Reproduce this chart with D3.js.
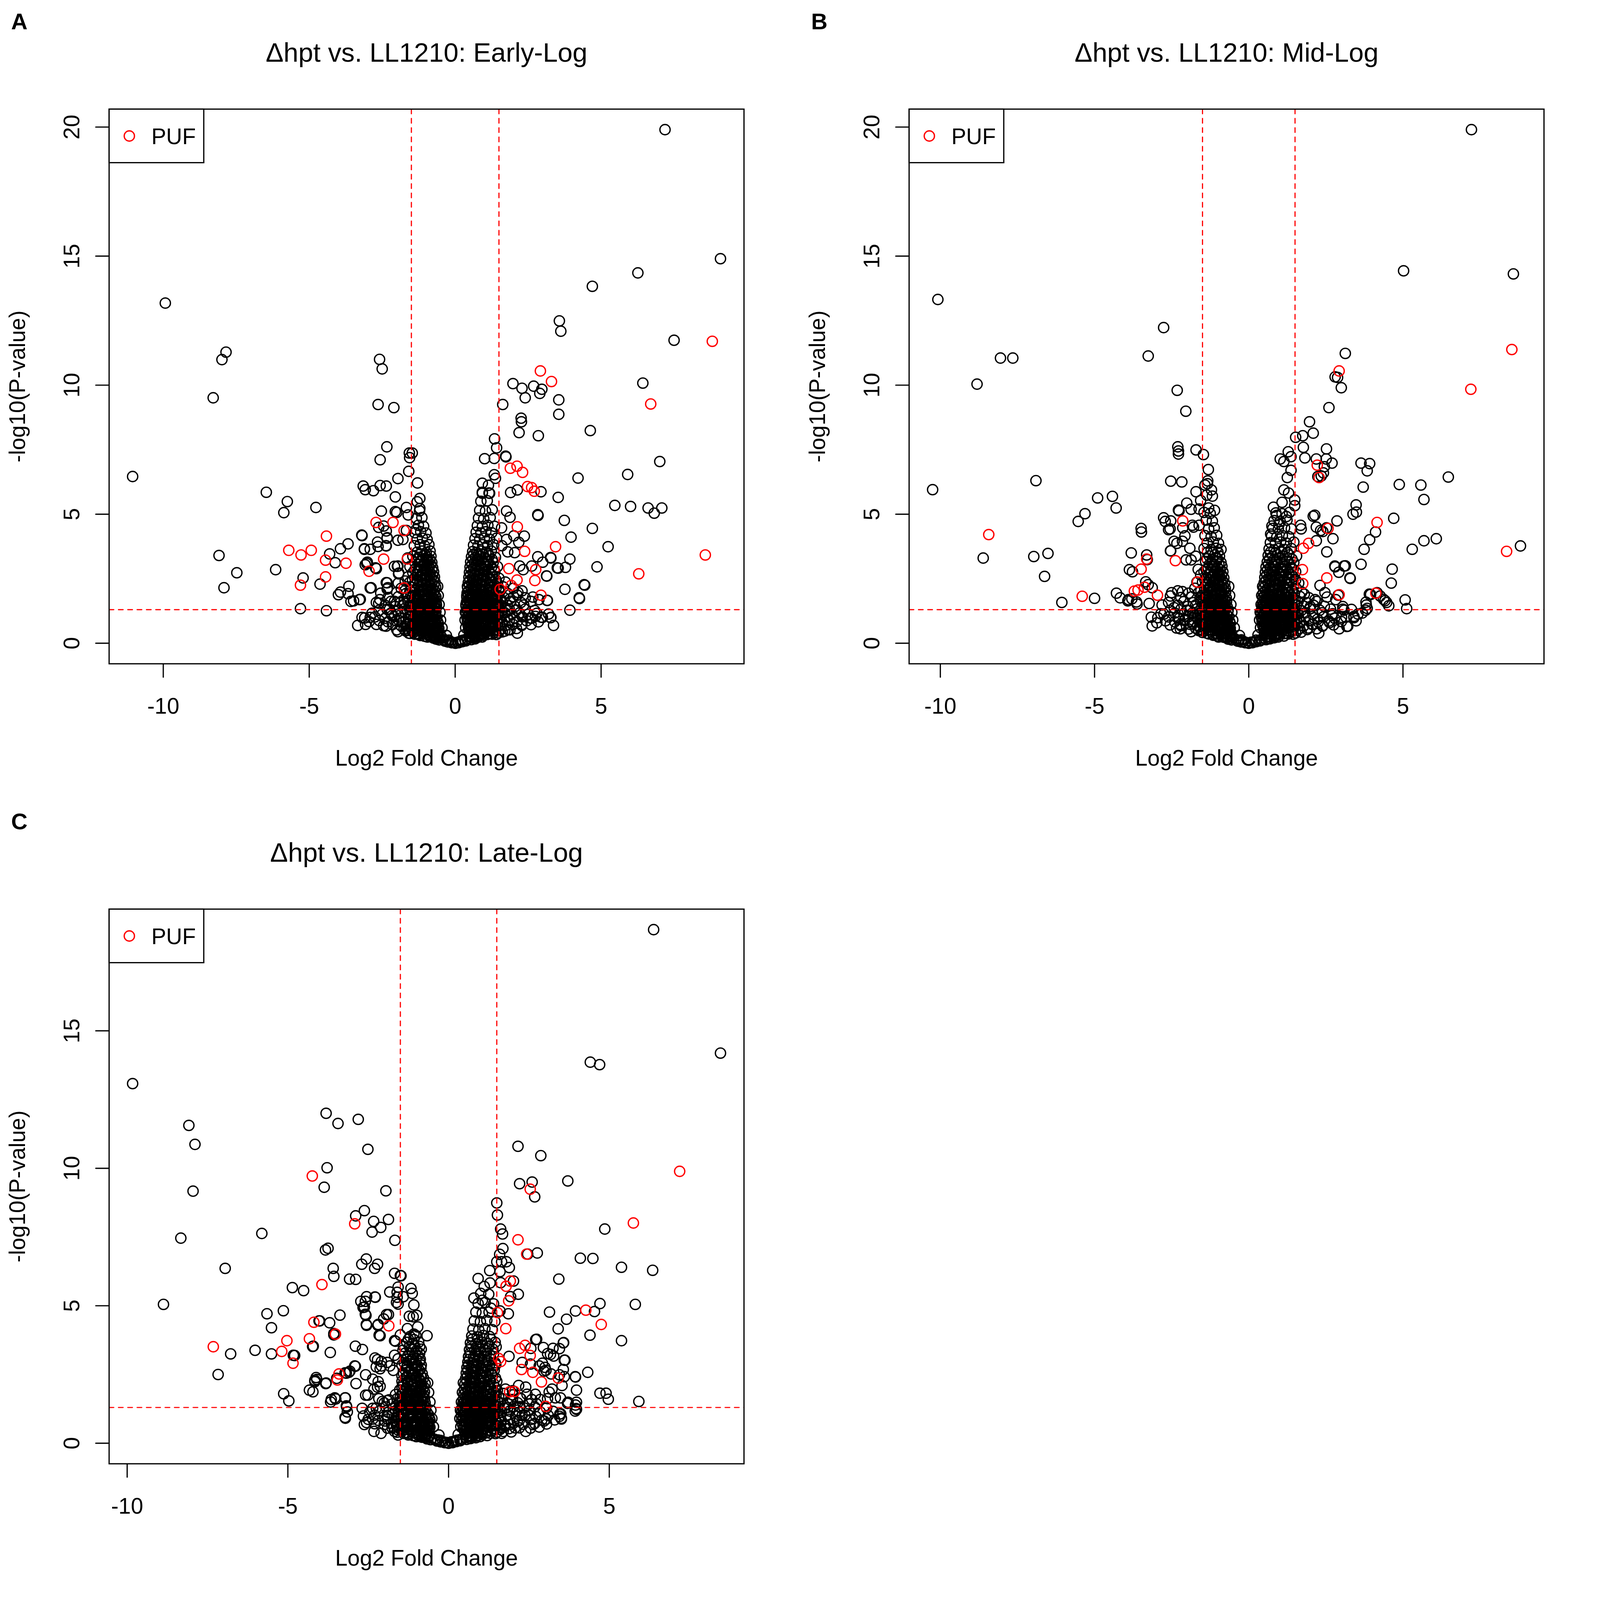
<!DOCTYPE html>
<html>
<head>
<meta charset="utf-8">
<script src="https://cdn.jsdelivr.net/npm/d3@7"></script>
<style>
  html, body { margin: 0; padding: 0; background: #fff; overflow: hidden; }
  #chart svg { display: block; width: 100vw; height: 100vh; }
</style>
</head>
<body>
<div id="chart"></div>
<script>
// panel labels / titles
var panelLetters = ["A", "B", "C"];
var panelTitles = ["\u0394hpt vs. LL1210: Early-Log", "\u0394hpt vs. LL1210: Mid-Log", "\u0394hpt vs. LL1210: Late-Log"];
var xLabel = "Log2 Fold Change";
var yLabel = "-log10(P-value)";
var legendLabel = "PUF";

var xTicks = [-10, -5, 0, 5];
var yTicksEarly = [0, 5, 10, 15, 20];
var yTicksMid = [0, 5, 10, 15, 20];
var yTicksLate = [0, 5, 10, 15];

var fcCut = 1.5;      // |log2 FC| threshold
var pCut = 1.30103;   // -log10(0.05)

// ---- Early-Log : [log2FC, -log10 p] ----
var earlyOther = [[7.19,19.9],[9.09,14.9],[6.26,14.35],[4.7,13.83],[3.57,12.49],[3.62,12.09],[7.5,11.74],[6.43,10.08],[1.98,10.06],[2.69,9.96],[2.29,9.88],[2.97,9.84],[2.9,9.68],[2.4,9.51],[3.55,9.43],[1.63,9.25],[2.26,8.72],[2.27,8.58],[3.55,8.87],[2.19,8.16],[2.85,8.04],[4.63,8.24],[1.35,7.92],[1.42,7.57],[1.73,7.25],[1.01,7.15],[1.34,7.16],[7.01,7.04],[5.91,6.54],[4.21,6.4],[3.53,5.65],[5.47,5.34],[6.01,5.3],[6.61,5.24],[7.08,5.24],[6.82,5.04],[2.83,4.98],[3.74,4.76],[4.7,4.45],[3.97,4.11],[5.24,3.74],[3.27,3.32],[3.93,3.26],[3.78,2.94],[3.5,2.92],[4.86,2.96],[3.13,2.61],[4.42,2.27],[3.76,2.09],[4.25,1.76],[3.15,1.66],[3.93,1.28],[3.37,0.69],[3.27,0.99],
[1.34,6.53],[1.38,6.39],[0.93,6.2],[1.14,6.12],[0.93,5.81],[1.18,5.81],[1.9,5.84],[2.13,5.94],[2.94,5.87],[1.74,7.22],[2.84,4.95],[2.37,4.15],[2.01,4.16],[2.18,3.91],[1.76,5.12],[1.88,4.88],[1.59,4.47],[1.76,4.02],[1.8,3.54],[2.04,3.51],[2.21,2.99],[2.33,2.85],[2.83,3.35],[3.0,3.14],[2.62,2.99],[3.28,3.3],[3.14,2.6],[3.53,2.91],[3.16,1.66],[2.87,1.69],[2.66,1.79],[2.99,1.0],[2.75,1.04],[2.58,0.97],[3.28,1.0],[2.13,0.39],[2.29,0.73],[1.88,0.52],[2.13,1.86],[1.88,1.72],[2.29,2.03],[1.8,1.28],[4.44,2.25],[4.26,1.73],
[-9.93,13.18],[-7.85,11.28],[-7.99,10.99],[-8.29,9.51],[-11.05,6.46],[-2.59,11.0],[-2.5,10.63],[-2.64,9.25],[-2.1,9.13],[-2.34,7.61],[-2.57,7.11],[-1.57,7.37],[-1.47,7.37],[-1.56,7.19],[-1.59,6.66],[-1.96,6.38],[-1.29,6.21],[-3.15,6.09],[-3.08,5.95],[-2.57,6.11],[-2.36,6.09],[-2.8,5.91],[-2.05,5.67],[-1.21,5.61],[-6.47,5.85],[-5.75,5.49],[-5.87,5.06],[-4.77,5.26],[-8.09,3.4],[-7.92,2.15],[-7.48,2.73],[-6.15,2.85],[-5.21,2.53],[-4.63,2.29],[-4.41,1.26],[-5.3,1.34],[-4.3,3.46],[-3.93,3.66],[-3.67,3.85],[-3.2,4.19],[-4.11,3.12],[-3.11,3.66],[-3.01,3.14],[-3.08,3.04],[-3.93,1.98],[-4.0,1.88],[-3.64,2.21],[-3.67,1.92],[-3.57,1.62],[-3.48,1.64],[-3.25,1.7],[-3.34,0.69],[-2.88,2.15],[-2.62,4.49],[-2.53,5.12],[-2.05,5.1],[-2.36,4.35],[-2.33,4.07],[-2.36,3.77],[-2.64,3.75],[-1.96,3.99],[-2.08,2.98],[-1.98,2.98],[-1.94,2.69],[-2.36,2.35],[-2.31,2.15],[-2.73,2.92],
[-3.19,4.17],[-3.11,3.64],[-2.91,3.64],[-3.03,3.09],[-2.7,2.89],[-1.21,5.22],[-1.67,5.26],[-1.61,4.97],[-2.0,5.07],[-2.66,3.92],[-2.33,4.09],[-2.37,3.78],[-2.45,4.54],[-2.91,2.14],[-2.33,2.34],[-2.33,2.1],[-1.96,2.99],[-1.93,2.72],[-1.71,2.41],[-1.63,3.3],[-1.79,4.02],[-1.67,4.37],[-1.34,4.4],
[-3.19,1.0],[-2.91,1.0],[-2.7,0.73],[-3.07,0.73],[-2.62,1.55],[-2.58,1.69],[-2.33,1.31],[-2.37,0.66],[-2.08,1.62],[-1.96,0.45],[-2.16,1.07],[-1.92,0.87],[-1.67,0.73],[-1.75,1.62],[-1.59,0.39],[-3.28,1.69]];

var earlyCore = [[0.01,0.0],[-0.08,0.03],[0.09,0.04],[-0.16,0.06],[0.17,0.07],
[-0.3,0.1],[-0.22,0.12],[0.25,0.11],[0.33,0.13],[-0.4,0.14],[0.42,0.15],
[-0.62,0.18],[-0.52,0.2],[-0.45,0.22],[0.5,0.19],[0.58,0.21],[0.66,0.23],[-0.74,0.2],[0.76,0.22],
[-1.2,0.3],[-1.05,0.27],[-0.92,0.31],[-0.82,0.28],[-0.6,0.32],[-0.5,0.3],[0.48,0.29],[0.6,0.33],[0.72,0.28],[0.86,0.31],[0.98,0.3],[1.1,0.34],
[-1.55,0.38],[-1.42,0.42],[-1.3,0.37],[-1.15,0.43],[-1.0,0.4],[-0.86,0.44],[-0.7,0.38],[-0.58,0.42],[0.5,0.41],[0.62,0.38],[0.76,0.44],[0.9,0.39],[1.04,0.43],[1.2,0.37],[1.34,0.42],[1.48,0.4],[1.62,0.44],
[-2.0,0.52],[-1.75,0.55],[-1.6,0.5],[-1.38,0.56],[-1.22,0.52],[-1.08,0.57],[-0.94,0.53],[-0.8,0.56],[-0.66,0.52],[-0.56,0.58],[0.46,0.55],[0.57,0.52],[0.7,0.57],[0.83,0.53],[0.96,0.58],[1.1,0.52],[1.25,0.57],[1.4,0.53],[1.58,0.56],[1.82,0.52],[2.1,0.57],
[-2.45,0.68],[-2.15,0.72],[-1.85,0.67],[-1.62,0.73],[-1.45,0.69],[-1.3,0.72],[-1.16,0.67],[-1.02,0.73],[-0.9,0.68],[-0.77,0.72],[-0.64,0.69],[0.44,0.7],[0.55,0.67],[0.67,0.73],[0.8,0.68],[0.93,0.72],[1.06,0.67],[1.2,0.73],[1.35,0.69],[1.52,0.72],[1.72,0.68],[1.98,0.73],[2.28,0.69],[2.6,0.72],
[-2.95,0.84],[-2.6,0.88],[-2.3,0.83],[-2.02,0.87],[-1.78,0.82],[-1.52,0.86],[-1.36,0.83],[-1.22,0.88],[-1.08,0.84],[-0.95,0.87],[-0.82,0.83],[-0.7,0.87],[-0.6,0.83],[0.42,0.85],[0.53,0.82],[0.64,0.87],[0.76,0.83],[0.88,0.87],[1.0,0.83],[1.13,0.88],[1.27,0.84],[1.42,0.87],[1.6,0.83],[1.85,0.88],[2.12,0.84],[2.45,0.87],[2.85,0.83],
[-3.1,0.98],[-2.75,1.02],[-2.4,0.97],[-2.1,1.03],[-1.85,0.98],[-1.6,1.02],[-1.42,0.97],[-1.27,1.03],[-1.13,0.98],[-0.99,1.02],[-0.86,0.97],[-0.74,1.03],[-0.63,0.99],[0.4,1.0],[0.51,0.97],[0.62,1.03],[0.74,0.98],[0.86,1.02],[0.98,0.97],[1.1,1.03],[1.24,0.98],[1.38,1.02],[1.55,0.97],[1.78,1.03],[2.02,0.98],[2.3,1.02],[2.62,0.97],[2.95,1.01],
[-2.85,1.16],[-2.5,1.12],[-2.2,1.17],[-1.95,1.13],[-1.7,1.17],[-1.5,1.12],[-1.34,1.17],[-1.19,1.13],[-1.05,1.18],[-0.92,1.13],[-0.79,1.17],[-0.67,1.12],[0.38,1.15],[0.49,1.12],[0.6,1.17],[0.72,1.13],[0.84,1.18],[0.96,1.13],[1.08,1.17],[1.21,1.12],[1.35,1.17],[1.5,1.13],[1.7,1.18],[1.95,1.13],[2.2,1.17],[2.5,1.12],[2.8,1.16],[3.2,1.13],
[-2.6,1.28],[-2.25,1.32],[-1.98,1.27],[-1.75,1.33],[-1.55,1.28],[-1.4,1.32],[-1.25,1.27],[-1.11,1.33],[-0.97,1.28],[-0.84,1.32],[-0.71,1.27],[0.4,1.3],[0.52,1.27],[0.63,1.33],[0.75,1.28],[0.87,1.32],[0.99,1.27],[1.12,1.33],[1.26,1.28],[1.42,1.32],[1.6,1.27],[1.85,1.33],[2.1,1.28],[2.4,1.32],[2.72,1.27],
[-2.4,1.47],[-2.05,1.43],[-1.8,1.48],[-1.58,1.43],[-1.42,1.47],[-1.28,1.42],[-1.14,1.48],[-1.0,1.43],[-0.87,1.47],[-0.74,1.42],[-0.64,1.48],[0.37,1.45],[0.48,1.42],[0.6,1.47],[0.72,1.43],[0.84,1.48],[0.96,1.43],[1.09,1.47],[1.23,1.42],[1.38,1.48],[1.55,1.43],[1.78,1.47],[2.05,1.42],[2.35,1.48],
[-2.7,1.58],[-2.2,1.62],[-1.88,1.57],[-1.62,1.63],[-1.44,1.58],[-1.3,1.62],[-1.16,1.57],[-1.02,1.63],[-0.89,1.58],[-0.76,1.62],[-0.65,1.57],[0.39,1.6],[0.5,1.57],[0.62,1.63],[0.74,1.58],[0.86,1.62],[0.98,1.57],[1.11,1.63],[1.26,1.58],[1.42,1.62],[1.62,1.57],[1.9,1.63],[2.25,1.58],[2.6,1.62],
[-2.3,1.77],[-1.95,1.8],[-1.65,1.76],[-1.46,1.81],[-1.31,1.76],[-1.17,1.8],[-1.03,1.75],[-0.9,1.81],[-0.77,1.76],[-0.66,1.8],[0.4,1.78],[0.51,1.75],[0.63,1.8],[0.75,1.76],[0.88,1.81],[1.0,1.76],[1.13,1.8],[1.28,1.75],[1.45,1.81],[1.68,1.76],[2.0,1.8],[2.4,1.76],
[-2.55,1.94],[-2.0,1.97],[-1.68,1.93],[-1.45,1.98],[-1.28,1.93],[-1.14,1.97],[-1.0,1.92],[-0.87,1.98],[-0.75,1.93],[0.41,1.95],[0.53,1.92],[0.65,1.97],[0.77,1.93],[0.9,1.98],[1.03,1.93],[1.17,1.97],[1.33,1.92],[1.52,1.98],[1.8,1.93],[2.15,1.97],
[-1.85,2.13],[-1.5,2.17],[-1.32,2.12],[-1.17,2.18],[-1.03,2.13],[-0.9,2.17],[-0.77,2.12],[-0.67,2.17],[0.43,2.15],[0.55,2.12],[0.67,2.17],[0.8,2.13],[0.93,2.18],[1.07,2.13],[1.22,2.17],[1.4,2.12],[1.65,2.18],[2.0,2.13],
[-1.95,2.33],[-1.55,2.37],[-1.35,2.32],[-1.2,2.38],[-1.06,2.33],[-0.93,2.37],[-0.8,2.32],[-0.69,2.37],[0.45,2.35],[0.57,2.32],[0.7,2.37],[0.83,2.33],[0.96,2.38],[1.1,2.33],[1.26,2.37],[1.45,2.32],[1.72,2.37],
[-1.62,2.57],[-1.38,2.53],[-1.22,2.58],[-1.08,2.53],[-0.95,2.57],[-0.82,2.52],[-0.71,2.57],[0.47,2.55],[0.6,2.52],[0.73,2.57],[0.86,2.53],[0.99,2.58],[1.14,2.53],[1.3,2.57],[1.5,2.52],
[-1.45,2.73],[-1.28,2.77],[-1.13,2.72],[-0.99,2.78],[-0.86,2.73],[-0.74,2.77],[0.49,2.75],[0.62,2.72],[0.75,2.77],[0.89,2.73],[1.03,2.78],[1.18,2.73],[1.36,2.77],
[-1.55,2.97],[-1.33,2.93],[-1.17,2.98],[-1.03,2.93],[-0.9,2.97],[-0.77,2.92],[0.51,2.95],[0.64,2.92],[0.78,2.97],[0.92,2.93],[1.07,2.98],[1.24,2.93],[1.45,2.97],
[-1.38,3.13],[-1.2,3.17],[-1.06,3.12],[-0.93,3.18],[-0.8,3.13],[0.53,3.15],[0.67,3.12],[0.81,3.17],[0.96,3.13],[1.12,3.18],[1.3,3.13],
[-1.45,3.37],[-1.25,3.33],[-1.1,3.38],[-0.96,3.33],[-0.83,3.37],[0.56,3.35],[0.7,3.32],[0.85,3.37],[1.0,3.33],[1.17,3.38],[1.38,3.33],
[-1.3,3.53],[-1.14,3.57],[-0.99,3.52],[-0.86,3.57],[0.6,3.55],[0.74,3.52],[0.89,3.57],[1.05,3.53],[1.24,3.57],
[-1.4,3.78],[-1.2,3.82],[-1.04,3.77],[-0.9,3.82],[0.63,3.8],[0.78,3.77],[0.94,3.82],[1.11,3.78],[1.32,3.82],[1.6,3.78],
[-1.3,4.03],[-1.12,4.07],[-0.96,4.02],[0.68,4.05],[0.84,4.02],[1.0,4.07],[1.18,4.03],[1.42,4.07],
[-1.38,4.28],[-1.18,4.32],[-1.0,4.27],[0.72,4.3],[0.88,4.27],[1.05,4.32],[1.25,4.28],
[-1.26,4.57],[-1.08,4.53],[0.76,4.55],[0.93,4.52],[1.12,4.57],[1.35,4.53],
[-1.33,4.83],[-1.14,4.87],[0.8,4.85],[0.98,4.82],[1.2,4.87],
[-1.22,5.13],[0.84,5.15],[1.04,5.12],[1.27,5.17],
[-1.3,5.48],[0.88,5.5],[1.1,5.52],
[0.93,5.85],[1.16,5.82]];

var earlyFill = [[-0.95,0.24],[-0.85,0.25],[-0.68,0.26],[-0.56,0.25],[0.54,0.25],[0.64,0.26],[0.8,0.25],[0.92,0.24],
[-1.38,0.35],[-1.24,0.34],[-1.08,0.36],[-0.93,0.35],[-0.77,0.34],[-0.64,0.36],[0.56,0.35],[0.68,0.36],[0.82,0.34],[0.96,0.35],[1.12,0.36],[1.27,0.35],[1.41,0.34],
[-1.7,0.48],[-1.48,0.47],[-1.3,0.49],[-1.15,0.48],[-1.0,0.47],[-0.87,0.49],[-0.73,0.48],[-0.6,0.47],[0.5,0.48],[0.63,0.49],[0.76,0.47],[0.9,0.48],[1.03,0.49],[1.17,0.47],[1.32,0.48],[1.5,0.49],[1.7,0.47],
[-1.52,0.63],[-1.38,0.62],[-1.23,0.64],[-1.09,0.63],[-0.96,0.62],[-0.83,0.64],[-0.7,0.63],[-0.59,0.62],[0.5,0.63],[0.62,0.64],[0.75,0.62],[0.88,0.63],[1.01,0.64],[1.15,0.62],[1.3,0.63],[1.46,0.64],
[-1.55,0.78],[-1.37,0.77],[-1.23,0.79],[-1.09,0.78],[-0.95,0.77],[-0.82,0.79],[-0.69,0.78],[-0.58,0.77],[0.49,0.78],[0.61,0.79],[0.74,0.77],[0.87,0.78],[1.0,0.79],[1.14,0.77],[1.28,0.78],[1.45,0.79],
[-1.6,0.93],[-1.44,0.92],[-1.29,0.94],[-1.15,0.93],[-1.01,0.92],[-0.88,0.94],[-0.76,0.93],[-0.65,0.92],[0.46,0.93],[0.58,0.94],[0.7,0.92],[0.82,0.93],[0.94,0.94],[1.07,0.92],[1.2,0.93],[1.35,0.94],[1.5,0.92],
[-1.52,1.08],[-1.35,1.07],[-1.2,1.09],[-1.06,1.08],[-0.92,1.07],[-0.8,1.09],[-0.69,1.08],[0.45,1.08],[0.57,1.07],[0.69,1.09],[0.81,1.08],[0.93,1.07],[1.05,1.09],[1.18,1.08],[1.32,1.07],[1.46,1.09],
[-1.45,1.22],[-1.3,1.23],[-1.16,1.21],[-1.02,1.22],[-0.89,1.23],[-0.76,1.21],[-0.66,1.22],[0.44,1.22],[0.56,1.23],[0.68,1.21],[0.8,1.22],[0.92,1.23],[1.04,1.21],[1.17,1.22],[1.31,1.23],[1.47,1.21],
[-1.5,1.38],[-1.34,1.37],[-1.19,1.39],[-1.05,1.38],[-0.92,1.37],[-0.79,1.39],[-0.68,1.38],[0.44,1.38],[0.56,1.37],[0.69,1.39],[0.81,1.38],[0.94,1.37],[1.07,1.39],[1.2,1.38],[1.33,1.37],[1.48,1.39],
[-1.52,1.53],[-1.35,1.52],[-1.2,1.54],[-1.07,1.53],[-0.94,1.52],[-0.81,1.54],[-0.7,1.53],[0.43,1.53],[0.55,1.52],[0.67,1.54],[0.79,1.53],[0.91,1.52],[1.04,1.54],[1.18,1.53],[1.33,1.52],[1.5,1.54],
[-1.4,1.69],[-1.24,1.68],[-1.09,1.7],[-0.96,1.69],[-0.83,1.68],[-0.71,1.7],[0.45,1.69],[0.57,1.68],[0.7,1.7],[0.83,1.69],[0.96,1.68],[1.09,1.7],[1.24,1.69],[1.4,1.68],[1.56,1.7],
[-1.52,1.86],[-1.36,1.85],[-1.21,1.87],[-1.07,1.86],[-0.94,1.85],[-0.81,1.87],[-0.7,1.86],[0.46,1.86],[0.58,1.85],[0.7,1.87],[0.83,1.86],[0.96,1.85],[1.1,1.87],[1.25,1.86],[1.42,1.85],
[-1.55,2.04],[-1.38,2.03],[-1.22,2.05],[-1.08,2.04],[-0.95,2.03],[-0.82,2.05],[-0.71,2.04],[0.47,2.04],[0.6,2.03],[0.73,2.05],[0.86,2.04],[0.99,2.03],[1.14,2.05],[1.3,2.04],[1.5,2.03],
[-1.42,2.25],[-1.26,2.24],[-1.12,2.26],[-0.98,2.25],[-0.85,2.24],[-0.73,2.26],[0.49,2.25],[0.62,2.24],[0.75,2.26],[0.89,2.25],[1.03,2.24],[1.18,2.26],[1.35,2.25],
[-1.46,2.45],[-1.29,2.44],[-1.14,2.46],[-1.0,2.45],[-0.87,2.44],[-0.75,2.46],[0.51,2.45],[0.64,2.44],[0.78,2.46],[0.92,2.45],[1.06,2.44],[1.22,2.46],[1.4,2.45],
[-1.3,2.65],[-1.15,2.64],[-1.01,2.66],[-0.88,2.65],[-0.77,2.64],[0.53,2.65],[0.67,2.64],[0.81,2.66],[0.95,2.65],[1.1,2.64],[1.26,2.66],
[-1.38,2.85],[-1.2,2.84],[-1.06,2.86],[-0.93,2.85],[-0.8,2.84],[0.55,2.85],[0.7,2.84],[0.84,2.86],[0.99,2.85],[1.15,2.84],[1.33,2.86],
[-1.25,3.05],[-1.1,3.04],[-0.96,3.06],[-0.84,3.05],[0.58,3.05],[0.72,3.04],[0.87,3.06],[1.02,3.05],[1.2,3.04],
[-1.32,3.25],[-1.15,3.24],[-1.0,3.26],[-0.87,3.25],[0.61,3.25],[0.76,3.24],[0.92,3.26],[1.08,3.25],[1.27,3.24],
[-1.2,3.45],[-1.04,3.44],[0.64,3.45],[0.8,3.44],[0.96,3.46],[1.14,3.45],
[-0.5,0.9],[-0.52,1.2],[-0.55,1.5],[-0.58,1.85],[-0.6,2.2],[0.34,0.9],[0.35,1.2],[0.37,1.5],[0.4,1.85],[0.42,2.2],[-0.45,0.6],[0.36,0.6],
[-0.25,0.05],[0.24,0.06],[-0.35,0.08],[0.36,0.09],[-0.55,0.13],[0.55,0.14],[-0.65,0.16],[0.68,0.17],[-0.12,0.02],[0.12,0.02],[-0.3,0.3],[0.3,0.32]];

var earlyPuf = [[8.81,11.7],[2.92,10.55],[3.3,10.14],[6.7,9.27],[1.89,6.78],[2.12,6.86],[2.31,6.62],[2.48,6.07],[2.62,6.03],[2.71,5.89],[3.44,3.74],[8.57,3.42],[6.29,2.69],[2.13,4.51],[2.38,3.56],[2.76,2.85],[2.12,2.45],[2.94,1.86],[1.54,2.09],[2.73,2.43],[1.84,2.89],[1.92,2.24],
[-5.7,3.6],[-5.28,3.42],[-4.93,3.6],[-4.41,4.15],[-4.44,3.22],[-3.74,3.1],[-4.44,2.57],[-5.3,2.25],[-2.71,4.68],[-2.13,4.68],[-2.45,3.26],[-2.95,2.79],[-1.75,4.37],[-1.64,3.26],[-1.75,2.14]];

// ---- Mid-Log ----
var midOther = [[7.22,19.9],[5.02,14.43],[8.58,14.31],[-10.08,13.32],[-10.25,5.95],[-8.05,11.05],[-7.65,11.05],[-8.81,10.04],[-8.61,3.3],[-6.9,6.3],[-6.97,3.36],[-6.51,3.48],[-6.62,2.59],[-6.06,1.58],[-5.53,4.72],[-5.31,5.02],[-4.9,5.63],[-4.42,5.69],[-4.3,5.24],[-5.0,1.74],[-3.49,4.45],[-3.48,4.31],[-3.81,3.5],[-3.31,3.42],[-3.29,3.24],[-2.76,12.23],[-3.26,11.13],[-2.32,9.8],[-2.04,8.99],[-2.3,7.61],[-2.28,7.45],[-2.28,7.33],[-1.71,7.49],[-1.47,7.31],[-2.53,6.28],[-2.17,6.25],[-2.76,4.86],[-2.71,4.72],[-2.53,4.74],[-2.55,4.43],[-2.28,5.16],[-2.14,4.47],[-2.53,3.58],[-2.33,3.87],[-3.87,2.85],[-3.77,2.77],[-3.26,2.27],[-3.13,2.15],[-4.29,1.94],[-4.17,1.76],[-3.92,1.64],[-3.23,1.54],[-3.64,1.6],[-3.16,1.01],[-3.13,0.67],[-2.98,0.79],
[3.13,11.23],[2.8,10.32],[2.88,10.3],[3.0,9.9],[2.6,9.13],[1.97,8.58],[2.09,8.14],[1.52,7.98],[1.75,8.04],[1.77,7.59],[2.52,7.53],[3.64,6.98],[3.92,6.96],[3.84,6.68],[3.71,6.05],[4.88,6.15],[5.58,6.13],[5.68,5.57],[6.47,6.44],[6.08,4.05],[5.68,3.97],[5.3,3.64],[4.7,4.84],[8.81,3.77],[3.48,5.36],[3.38,5.0],[3.49,5.08],[2.86,4.74],[2.73,4.05],[2.53,3.54],[3.92,4.01],[4.11,4.31],[3.74,3.64],[3.64,3.06],[3.28,2.53],[3.13,3.0],[2.8,2.96],[4.65,2.87],[4.62,2.33],[5.07,1.68],[5.12,1.34],[4.47,1.58],[4.37,1.7],[3.91,1.9],[4.16,1.96],[3.81,1.48],[3.79,1.28],[3.54,1.13],[3.41,0.99],[3.18,0.65],[3.05,1.32],[2.19,3.97],[2.33,4.37],[2.52,4.47],[2.09,4.92],[2.14,4.96],[2.24,6.46],[2.35,6.48],[2.42,6.6],[2.45,6.84],[2.7,6.98],
[-1.31,6.73],[-1.33,6.29],[-1.34,6.18],[-1.42,6.13],[-1.21,5.94],[-1.18,5.7],[-1.36,5.74],[-1.71,5.87],[-1.56,5.53],[-2.01,5.43],[-1.87,5.19],[-1.61,5.2],[-1.3,5.24],[-1.11,5.15],[-2.26,5.13],[-2.6,4.4],[-3.34,2.38],[-2.85,1.14],[-2.81,1.48],[-2.54,1.83],[-2.5,1.96],[-2.3,2.03],[-2.15,2.0],[-2.42,1.38],[-2.3,1.0],[-2.22,0.73],[-2.07,0.93],[-1.99,1.28],[-1.83,0.76],[-1.75,1.07],[-2.34,0.59],[-2.22,0.56],[-1.87,0.45],[-1.64,0.52],[-2.54,3.58],[-2.42,3.95],[-2.15,3.95],[-2.07,4.16],[-1.91,3.68],[-1.83,4.57],[-1.79,4.5],[-1.61,4.57],[-2.03,3.23],[-1.87,3.23],[-1.72,3.37],[-1.64,2.86],[-1.56,2.65],[-1.68,2.37],[-3.62,1.52],[-3.79,1.72],[-3.9,1.69],
[1.82,7.18],[2.19,7.14],[2.51,7.14],[1.02,7.14],[1.14,7.04],[1.28,7.42],[1.37,7.23],[1.37,6.7],[1.25,6.42],[1.14,5.94],[1.29,5.82],[1.49,5.55],[1.49,5.33],[1.08,5.46],[0.8,5.27],[0.9,4.95],[1.22,4.91],[0.98,4.6],[0.75,4.54],[0.71,4.23],[1.68,4.57],[1.7,4.43],[2.19,4.5],[2.4,4.33],[2.79,2.99],[3.09,2.99],[2.92,2.75],[3.29,2.51],[3.95,1.89],[4.26,1.83],[4.42,1.65],[4.54,1.45],[3.8,1.59],[3.84,1.35],[3.68,1.17],[3.05,1.42],[3.09,1.28],[3.33,1.31],[3.41,1.04],[3.48,0.87],[3.21,0.66],[2.93,0.56],[2.82,1.69],[2.9,1.86],[2.54,1.79],[2.27,0.39],[2.39,0.66],[2.62,0.8],[2.23,0.93],[1.92,0.59],[2.08,0.73],[2.31,2.24],[2.47,1.96],[2.15,1.69],[2.0,1.42],[1.8,1.9],[2.7,1.07],[3.01,1.0]];

var midCore = [[0.0,0.0],[-0.09,0.03],[0.08,0.04],[-0.17,0.07],[0.18,0.06],
[-0.32,0.11],[-0.24,0.13],[0.24,0.12],[0.34,0.1],[-0.42,0.15],[0.43,0.14],
[-0.7,0.21],[-0.6,0.18],[-0.5,0.22],[0.52,0.2],[0.62,0.18],[0.72,0.22],[-0.8,0.23],[0.82,0.21],
[-1.15,0.31],[-1.0,0.28],[-0.9,0.32],[-0.78,0.29],[-0.65,0.31],[-0.55,0.28],[0.5,0.3],[0.62,0.27],[0.75,0.32],[0.88,0.29],[1.0,0.31],[1.14,0.28],
[-1.5,0.42],[-1.36,0.39],[-1.22,0.44],[-1.08,0.4],[-0.94,0.43],[-0.8,0.39],[-0.67,0.44],[-0.57,0.4],[0.52,0.42],[0.64,0.39],[0.78,0.44],[0.92,0.4],[1.06,0.43],[1.2,0.39],[1.36,0.44],[1.52,0.4],[1.7,0.43],
[-1.95,0.55],[-1.72,0.58],[-1.55,0.53],[-1.4,0.57],[-1.25,0.53],[-1.11,0.58],[-0.97,0.54],[-0.84,0.57],[-0.71,0.53],[-0.6,0.58],[0.48,0.56],[0.6,0.53],[0.73,0.58],[0.86,0.54],[0.99,0.57],[1.13,0.53],[1.28,0.58],[1.45,0.54],[1.65,0.57],[1.9,0.53],[2.2,0.56],
[-2.55,0.71],[-2.2,0.68],[-1.9,0.73],[-1.66,0.69],[-1.48,0.72],[-1.32,0.67],[-1.18,0.73],[-1.04,0.68],[-0.91,0.72],[-0.78,0.67],[-0.66,0.71],[0.45,0.7],[0.57,0.67],[0.69,0.73],[0.82,0.68],[0.95,0.72],[1.08,0.67],[1.22,0.73],[1.38,0.68],[1.56,0.72],[1.78,0.67],[2.05,0.73],[2.4,0.69],[2.75,0.71],
[-2.7,0.87],[-2.4,0.83],[-2.08,0.88],[-1.82,0.83],[-1.58,0.87],[-1.4,0.82],[-1.25,0.88],[-1.11,0.83],[-0.98,0.87],[-0.85,0.82],[-0.72,0.88],[-0.62,0.84],[0.43,0.85],[0.55,0.82],[0.67,0.87],[0.79,0.83],[0.91,0.88],[1.04,0.83],[1.17,0.87],[1.32,0.82],[1.48,0.88],[1.68,0.83],[1.95,0.87],[2.25,0.83],[2.6,0.86],[3.0,0.84],
[-2.95,0.99],[-2.6,1.02],[-2.25,0.97],[-1.95,1.03],[-1.68,0.98],[-1.47,1.02],[-1.31,0.97],[-1.16,1.03],[-1.02,0.98],[-0.89,1.02],[-0.76,0.97],[-0.65,1.03],[0.41,1.0],[0.53,0.97],[0.65,1.03],[0.77,0.98],[0.89,1.02],[1.02,0.97],[1.15,1.03],[1.29,0.98],[1.44,1.02],[1.62,0.97],[1.85,1.03],[2.12,0.98],[2.42,1.02],[2.78,0.97],[3.15,1.01],
[-2.75,1.13],[-2.4,1.17],[-2.1,1.12],[-1.82,1.18],[-1.58,1.13],[-1.41,1.17],[-1.26,1.12],[-1.12,1.18],[-0.98,1.13],[-0.85,1.17],[-0.72,1.12],[0.4,1.15],[0.52,1.12],[0.64,1.17],[0.76,1.13],[0.88,1.18],[1.0,1.13],[1.13,1.17],[1.27,1.12],[1.42,1.18],[1.6,1.13],[1.82,1.17],[2.08,1.12],[2.38,1.18],[2.72,1.14],
[-2.55,1.28],[-2.2,1.32],[-1.92,1.27],[-1.68,1.33],[-1.48,1.28],[-1.33,1.32],[-1.18,1.27],[-1.04,1.33],[-0.91,1.28],[-0.78,1.32],[-0.67,1.27],[0.42,1.3],[0.54,1.27],[0.66,1.33],[0.78,1.28],[0.9,1.32],[1.03,1.27],[1.17,1.33],[1.32,1.28],[1.48,1.32],[1.7,1.27],[1.98,1.33],[2.3,1.28],[2.65,1.32],
[-2.3,1.47],[-1.98,1.43],[-1.72,1.48],[-1.52,1.43],[-1.37,1.47],[-1.22,1.42],[-1.08,1.48],[-0.95,1.43],[-0.82,1.47],[-0.7,1.42],[0.44,1.45],[0.56,1.42],[0.68,1.47],[0.8,1.43],[0.93,1.48],[1.06,1.43],[1.2,1.47],[1.36,1.42],[1.55,1.48],[1.8,1.43],[2.1,1.47],[2.45,1.43],
[-2.6,1.58],[-2.1,1.62],[-1.8,1.57],[-1.56,1.63],[-1.4,1.58],[-1.25,1.62],[-1.11,1.57],[-0.97,1.63],[-0.84,1.58],[-0.72,1.62],[0.45,1.6],[0.57,1.57],[0.7,1.63],[0.82,1.58],[0.95,1.62],[1.08,1.57],[1.23,1.63],[1.4,1.58],[1.6,1.62],[1.88,1.57],[2.2,1.62],
[-2.2,1.77],[-1.85,1.8],[-1.58,1.76],[-1.4,1.81],[-1.26,1.76],[-1.12,1.8],[-0.98,1.75],[-0.85,1.81],[-0.73,1.76],[0.46,1.78],[0.58,1.75],[0.71,1.8],[0.84,1.76],[0.97,1.81],[1.11,1.76],[1.26,1.8],[1.44,1.75],[1.66,1.81],[1.95,1.76],
[-1.95,1.94],[-1.62,1.97],[-1.42,1.93],[-1.27,1.98],[-1.13,1.93],[-0.99,1.97],[-0.86,1.92],[-0.75,1.98],[0.47,1.95],[0.6,1.92],[0.73,1.97],[0.86,1.93],[0.99,1.98],[1.13,1.93],[1.29,1.97],[1.48,1.92],[1.72,1.98],
[-1.75,2.13],[-1.44,2.17],[-1.28,2.12],[-1.14,2.18],[-1.0,2.13],[-0.87,2.17],[-0.76,2.12],[0.49,2.15],[0.62,2.12],[0.75,2.17],[0.88,2.13],[1.02,2.18],[1.17,2.13],[1.34,2.17],[1.55,2.12],
[-1.5,2.37],[-1.32,2.33],[-1.17,2.38],[-1.03,2.33],[-0.9,2.37],[-0.78,2.32],[0.5,2.35],[0.63,2.32],[0.77,2.37],[0.9,2.33],[1.04,2.38],[1.2,2.33],[1.38,2.37],[1.62,2.33],
[-1.38,2.53],[-1.22,2.57],[-1.07,2.52],[-0.94,2.58],[-0.81,2.53],[0.52,2.55],[0.66,2.52],[0.8,2.57],[0.94,2.53],[1.08,2.58],[1.24,2.53],[1.44,2.57],
[-1.45,2.77],[-1.26,2.73],[-1.1,2.78],[-0.97,2.73],[-0.84,2.77],[0.54,2.75],[0.68,2.72],[0.82,2.77],[0.97,2.73],[1.12,2.78],[1.3,2.73],[1.52,2.77],
[-1.32,2.93],[-1.15,2.97],[-1.0,2.92],[-0.87,2.98],[0.56,2.95],[0.71,2.92],[0.86,2.97],[1.01,2.93],[1.18,2.98],[1.38,2.93],
[-1.4,3.17],[-1.2,3.13],[-1.04,3.18],[-0.9,3.13],[0.6,3.15],[0.75,3.12],[0.9,3.17],[1.06,3.13],[1.24,3.18],[1.46,3.13],
[-1.28,3.38],[-1.1,3.42],[-0.95,3.37],[0.63,3.4],[0.78,3.37],[0.94,3.42],[1.11,3.38],[1.3,3.42],[1.55,3.38],
[-1.45,3.67],[-1.22,3.63],[-1.05,3.68],[-0.9,3.63],[0.66,3.65],[0.82,3.62],[0.98,3.67],[1.16,3.63],[1.38,3.67],
[-1.35,3.88],[-1.15,3.92],[-0.98,3.87],[0.7,3.9],[0.86,3.87],[1.03,3.92],[1.22,3.88],[1.46,3.92],
[-1.42,4.17],[-1.22,4.13],[-1.04,4.18],[0.74,4.15],[0.91,4.12],[1.09,4.17],[1.3,4.13],
[-1.3,4.43],[-1.12,4.47],[0.78,4.45],[0.96,4.42],[1.16,4.47],[1.38,4.43],
[-1.38,4.77],[-1.18,4.73],[0.82,4.75],[1.02,4.72],[1.24,4.77],
[-1.25,5.03],[-1.45,5.07],[0.88,5.05],[1.08,5.02],[1.32,5.07]];

var midFill = [[-0.98,0.24],[-0.86,0.25],[-0.72,0.26],[-0.6,0.25],[0.57,0.25],[0.68,0.26],[0.82,0.25],[0.95,0.24],
[-1.3,0.36],[-1.15,0.35],[-1.01,0.37],[-0.87,0.36],[-0.73,0.35],[-0.61,0.37],[0.57,0.36],[0.7,0.37],[0.84,0.35],[0.98,0.36],[1.13,0.37],[1.28,0.36],[1.44,0.35],
[-1.62,0.49],[-1.47,0.48],[-1.32,0.5],[-1.18,0.49],[-1.04,0.48],[-0.9,0.5],[-0.76,0.49],[-0.63,0.48],[0.54,0.49],[0.67,0.5],[0.8,0.48],[0.94,0.49],[1.08,0.5],[1.23,0.48],[1.4,0.49],[1.58,0.5],
[-1.6,0.63],[-1.45,0.62],[-1.31,0.64],[-1.17,0.63],[-1.03,0.62],[-0.9,0.64],[-0.77,0.63],[-0.63,0.62],[0.51,0.63],[0.63,0.64],[0.76,0.62],[0.9,0.63],[1.03,0.64],[1.17,0.62],[1.32,0.63],[1.5,0.64],
[-1.55,0.78],[-1.4,0.77],[-1.25,0.79],[-1.11,0.78],[-0.98,0.77],[-0.85,0.79],[-0.72,0.78],[-0.6,0.77],[0.5,0.78],[0.62,0.79],[0.75,0.77],[0.88,0.78],[1.01,0.79],[1.15,0.77],[1.3,0.78],[1.47,0.79],
[-1.52,0.93],[-1.36,0.92],[-1.21,0.94],[-1.07,0.93],[-0.94,0.92],[-0.81,0.94],[-0.69,0.93],[0.47,0.93],[0.59,0.94],[0.71,0.92],[0.83,0.93],[0.96,0.94],[1.09,0.92],[1.23,0.93],[1.38,0.94],[1.55,0.92],
[-1.55,1.08],[-1.39,1.07],[-1.24,1.09],[-1.09,1.08],[-0.95,1.07],[-0.82,1.09],[-0.7,1.08],[0.46,1.08],[0.58,1.07],[0.7,1.09],[0.82,1.08],[0.95,1.07],[1.08,1.09],[1.22,1.08],[1.36,1.07],[1.52,1.09],
[-1.5,1.22],[-1.34,1.23],[-1.19,1.21],[-1.05,1.22],[-0.92,1.23],[-0.79,1.21],[-0.68,1.22],[0.46,1.22],[0.58,1.23],[0.7,1.21],[0.83,1.22],[0.96,1.23],[1.09,1.21],[1.24,1.22],[1.39,1.23],[1.56,1.21],
[-1.45,1.38],[-1.29,1.37],[-1.15,1.39],[-1.01,1.38],[-0.88,1.37],[-0.76,1.39],[0.48,1.38],[0.6,1.37],[0.73,1.39],[0.86,1.38],[0.99,1.37],[1.12,1.39],[1.27,1.38],[1.43,1.37],
[-1.5,1.53],[-1.32,1.52],[-1.18,1.54],[-1.04,1.53],[-0.91,1.52],[-0.78,1.54],[0.49,1.53],[0.61,1.52],[0.74,1.54],[0.87,1.53],[1.0,1.52],[1.14,1.54],[1.3,1.53],[1.48,1.52],
[-1.48,1.69],[-1.32,1.68],[-1.18,1.7],[-1.04,1.69],[-0.91,1.68],[-0.78,1.7],[0.5,1.69],[0.62,1.68],[0.75,1.7],[0.88,1.69],[1.02,1.68],[1.16,1.7],[1.32,1.69],[1.5,1.68],
[-1.48,1.86],[-1.33,1.85],[-1.19,1.87],[-1.05,1.86],[-0.92,1.85],[-0.8,1.87],[0.52,1.86],[0.65,1.85],[0.78,1.87],[0.91,1.86],[1.05,1.85],[1.2,1.87],[1.36,1.86],
[-1.55,2.04],[-1.35,2.03],[-1.2,2.05],[-1.06,2.04],[-0.93,2.03],[-0.81,2.05],[0.54,2.04],[0.67,2.03],[0.8,2.05],[0.94,2.04],[1.08,2.03],[1.24,2.05],[1.42,2.04],
[-1.4,2.25],[-1.24,2.24],[-1.09,2.26],[-0.96,2.25],[-0.83,2.24],[0.55,2.25],[0.69,2.24],[0.83,2.26],[0.97,2.25],[1.12,2.24],[1.28,2.26],[1.46,2.25],
[-1.42,2.45],[-1.27,2.44],[-1.12,2.46],[-0.98,2.45],[-0.86,2.44],[0.57,2.45],[0.71,2.44],[0.86,2.46],[1.0,2.45],[1.16,2.44],[1.33,2.46],[1.52,2.45],
[-1.3,2.65],[-1.15,2.64],[-1.01,2.66],[-0.88,2.65],[0.59,2.65],[0.74,2.64],[0.88,2.66],[1.03,2.65],[1.2,2.64],[1.38,2.66],
[-1.38,2.85],[-1.22,2.84],[-1.07,2.86],[-0.94,2.85],[0.61,2.85],[0.76,2.84],[0.91,2.86],[1.07,2.85],[1.25,2.84],[1.44,2.86],
[-1.28,3.05],[-1.12,3.04],[-0.97,3.06],[0.64,3.05],[0.79,3.04],[0.95,3.06],[1.12,3.05],[1.32,3.04],
[-1.35,3.27],[-1.18,3.26],[-1.02,3.28],[0.67,3.27],[0.83,3.26],[1.0,3.28],[1.18,3.27],[1.4,3.26],
[-1.34,3.52],[-1.16,3.51],[-1.0,3.53],[0.7,3.52],[0.87,3.51],[1.05,3.53],[1.25,3.52],
[-0.52,0.9],[-0.55,1.2],[-0.58,1.5],[-0.62,1.85],[-0.65,2.2],[0.35,0.9],[0.37,1.2],[0.4,1.5],[0.42,1.85],[0.45,2.2],[-0.47,0.6],[0.38,0.6],
[-0.25,0.05],[0.24,0.06],[-0.36,0.08],[0.36,0.09],[-0.56,0.13],[0.56,0.14],[-0.67,0.16],[0.68,0.17],[-0.12,0.02],[0.12,0.02],[-0.3,0.3],[0.3,0.32]];

var midPuf = [[8.53,11.38],[7.2,9.84],[8.36,3.56],[2.93,10.55],[2.22,6.9],[2.28,6.42],[4.16,4.68],[2.57,4.45],[1.94,3.87],[1.77,3.68],[1.74,2.85],[1.75,2.31],[2.53,2.53],[2.93,1.88],[4.12,1.94],
[-5.4,1.82],[-8.43,4.21],[-3.49,2.87],[-3.31,3.26],[-3.71,2.02],[-3.59,2.06],[-3.38,2.17],[-2.96,1.86],[-2.38,3.2],[-2.14,4.74],[-1.66,2.37]];

// ---- Late-Log ----
var lateOther = [[6.38,18.68],[8.46,14.19],[4.41,13.86],[4.7,13.77],[2.16,10.8],[2.87,10.46],[2.21,9.44],[2.6,9.5],[2.68,8.96],[3.71,9.54],[4.86,7.79],[5.38,6.4],[6.35,6.29],[5.81,5.05],[5.38,3.73],[5.92,1.52],[4.1,6.73],[4.49,6.72],[3.43,5.97],[3.95,4.81],[3.14,4.77],[3.67,4.51],[4.71,5.08],[4.54,4.79],[4.4,3.93],[3.41,4.16],[3.57,3.65],[3.25,3.45],[3.6,3.02],[3.17,3.23],[2.71,3.77],[2.76,6.92],[2.46,6.88],[2.56,3.45],[2.92,2.91],[3.0,2.76],[3.03,2.65],[3.95,2.41],[3.98,1.93],[4.33,2.58],[4.71,1.82],[4.9,1.82],[4.97,1.6],[3.97,1.26],[3.95,1.39],[3.51,0.91],[3.46,1.06],[3.13,1.86],[3.22,1.97],[3.7,1.45],[3.32,1.65],[2.17,5.42],[2.02,5.9],
[-9.83,13.08],[-8.08,11.56],[-7.89,10.87],[-7.95,9.17],[-8.33,7.46],[-6.95,6.36],[-8.87,5.05],[-7.17,2.5],[-6.78,3.25],[-5.81,7.63],[-6.02,3.38],[-5.51,3.25],[-5.65,4.71],[-5.51,4.2],[-5.14,4.82],[-4.86,5.66],[-4.51,5.55],[-5.13,1.8],[-4.97,1.54],[-4.79,3.19],[-4.21,3.53],[-4.03,4.45],[-3.7,4.38],[-3.68,3.3],[-3.57,3.99],[-3.38,4.66],[-3.81,12.0],[-3.44,11.63],[-2.81,11.78],[-2.51,10.69],[-3.78,10.02],[-3.87,9.31],[-1.95,9.18],[-2.89,8.27],[-2.62,8.46],[-2.33,8.07],[-2.38,7.68],[-2.11,7.85],[-1.87,8.14],[-1.67,7.38],[-3.83,7.03],[-3.75,7.09],[-3.59,6.36],[-3.57,6.07],[-3.08,5.97],[-2.89,5.96],[-2.56,6.7],[-2.7,6.51],[-2.3,6.36],[-2.21,6.51],[-1.68,6.18],[-1.48,6.09],[-2.59,5.16],[-2.62,4.95],[-2.59,4.69],[-2.56,4.32],[-2.29,5.32],[-1.6,5.49],[-1.6,5.31],[-1.57,5.06],[-1.87,4.68],[-2.19,4.32],[-2.16,3.93],[-1.68,3.73],[-2.9,3.53],[-2.68,3.41],[-2.9,2.8],[-3.1,2.58],[-3.22,2.56],[-3.81,2.19],[-4.1,2.32],[-4.16,2.24],[-4.33,1.93],[-4.22,1.87],[-3.67,1.5],[-3.51,1.61],[-3.21,1.65],[-3.17,1.32],[-3.21,0.91],[-2.29,3.1],[-2.13,2.71],[-2.19,2.24],
[-2.73,5.16],[-2.55,5.33],[-2.28,5.31],[-2.66,4.94],[-2.57,4.65],[-2.55,4.29],[-2.2,4.29],[-2.13,3.91],[-1.93,4.68],[-2.02,4.52],[-1.83,5.5],[-1.62,5.12],[-1.57,5.68],[-1.5,6.1],[-1.17,5.63],[-1.13,5.45],[-1.41,5.33],[-1.08,5.03],[-1.22,4.62],[-1.1,4.6],[-0.99,4.65],[-0.96,4.23],[-1.5,3.94],[-1.08,3.97],[-0.67,3.91],[-2.21,3.04],[-2.09,2.97],[-1.91,2.94],[-1.83,2.81],[-1.72,2.65],[-2.09,2.81],[-2.25,2.78],[-1.68,3.2],[-1.57,3.07],[-1.65,3.71],[-2.88,2.17],[-2.58,2.49],[-2.36,2.33],[-2.21,2.04],[-2.13,2.07],[-2.32,1.97],[-2.58,1.75],[-2.51,1.75],[-2.69,1.27],[-2.36,1.27],[-2.06,1.52],[-2.17,1.62],[-1.91,1.55],[-2.62,0.68],[-2.55,0.75],[-2.36,0.88],[-2.32,0.43],[-2.1,0.36],[-1.98,0.81],[-1.91,1.01],[-1.76,0.56],[-1.68,0.43],[-1.57,0.3],[-3.48,2.36],[-3.18,2.55],[-3.07,2.62],[-2.92,2.81],[-4.12,2.39],[-4.16,2.29],[-3.82,2.17],[-3.65,1.59],[-3.54,1.65],[-3.22,1.65],[-3.18,1.36],[-3.15,1.14],[-3.22,0.94],[-4.83,3.2],[-4.23,3.52],[-4.01,4.45],[-3.57,3.94],
[1.5,8.74],[1.52,8.3],[1.62,7.79],[1.68,7.61],[1.69,7.08],[1.59,6.87],[1.5,6.6],[1.65,6.6],[1.8,6.6],[1.89,6.39],[1.28,6.28],[1.6,6.24],[0.92,5.99],[1.29,5.83],[1.11,5.7],[1.62,5.84],[1.93,5.33],[0.79,5.28],[1.05,5.2],[1.32,4.91],[1.6,4.81],[1.86,4.71],[2.74,3.78],[2.95,3.48],[3.08,3.26],[3.27,3.17],[3.45,3.44],[3.58,3.66],[3.62,3.02],[1.88,3.16],[2.29,2.94],[2.55,2.88],[2.82,2.81],[2.97,2.62],[3.19,2.52],[3.45,2.49],[3.57,2.68],[3.6,2.42],[3.94,2.42],[3.53,2.1],[3.08,1.62],[3.48,1.65],[3.72,1.49],[3.98,1.49],[3.98,1.23],[3.94,1.17],[3.49,1.07],[3.51,0.88],[2.97,0.81],[3.04,0.88],[2.82,0.59],[2.63,0.68],[2.4,0.43],[2.52,1.01],[2.14,1.2],[2.29,1.01],[2.14,0.81],[1.92,0.68],[1.77,0.62],[1.65,0.36],[2.07,0.56],[2.22,1.33],[1.99,1.59],[1.84,1.3],[2.18,2.1],[2.4,2.04],[2.44,1.78],[2.59,1.59],[2.22,1.65],[1.99,1.91],[1.77,1.97],[2.7,1.78],[2.85,1.59],[2.74,1.43]];

var lateCore = [[0.0,0.0],[-0.08,0.03],[0.09,0.05],[-0.18,0.06],[0.17,0.07],
[-0.33,0.12],[-0.25,0.1],[0.26,0.11],[0.35,0.13],[-0.43,0.14],[0.44,0.15],
[-0.72,0.2],[-0.62,0.22],[-0.52,0.18],[0.54,0.21],[0.64,0.19],[0.74,0.22],[-0.83,0.22],[0.85,0.2],
[-1.25,0.3],[-1.1,0.28],[-0.97,0.32],[-0.85,0.29],[-0.7,0.31],[-0.58,0.28],[0.52,0.3],[0.65,0.28],[0.78,0.32],[0.92,0.29],[1.05,0.31],[1.2,0.28],
[-1.6,0.4],[-1.45,0.43],[-1.3,0.39],[-1.16,0.44],[-1.02,0.4],[-0.88,0.43],[-0.74,0.39],[-0.62,0.44],[0.5,0.42],[0.62,0.39],[0.76,0.44],[0.9,0.4],[1.04,0.43],[1.19,0.39],[1.34,0.44],[1.5,0.4],[1.7,0.43],[1.95,0.41],
[-1.9,0.55],[-1.7,0.58],[-1.52,0.53],[-1.37,0.57],[-1.22,0.53],[-1.08,0.58],[-0.94,0.54],[-0.81,0.57],[-0.68,0.53],[-0.58,0.58],[0.46,0.56],[0.58,0.53],[0.71,0.58],[0.84,0.54],[0.97,0.57],[1.11,0.53],[1.26,0.58],[1.42,0.54],[1.62,0.57],[1.88,0.53],[2.2,0.56],[2.55,0.55],
[-2.3,0.71],[-2.0,0.68],[-1.78,0.73],[-1.58,0.69],[-1.42,0.72],[-1.28,0.67],[-1.14,0.73],[-1.0,0.68],[-0.87,0.72],[-0.75,0.67],[-0.63,0.71],[0.43,0.7],[0.55,0.67],[0.67,0.73],[0.8,0.68],[0.93,0.72],[1.06,0.67],[1.2,0.73],[1.36,0.68],[1.54,0.72],[1.76,0.67],[2.02,0.73],[2.32,0.69],[2.68,0.72],[3.05,0.7],
[-2.5,0.87],[-2.18,0.83],[-1.9,0.88],[-1.66,0.83],[-1.48,0.87],[-1.33,0.82],[-1.19,0.88],[-1.05,0.83],[-0.92,0.87],[-0.8,0.82],[-0.68,0.88],[-0.58,0.84],[0.41,0.85],[0.52,0.82],[0.64,0.87],[0.76,0.83],[0.88,0.88],[1.01,0.83],[1.14,0.87],[1.29,0.82],[1.45,0.88],[1.64,0.83],[1.9,0.87],[2.2,0.83],[2.55,0.86],[2.9,0.84],[3.3,0.85],
[-2.65,0.99],[-2.3,1.02],[-2.0,0.97],[-1.75,1.03],[-1.55,0.98],[-1.39,1.02],[-1.24,0.97],[-1.1,1.03],[-0.97,0.98],[-0.84,1.02],[-0.72,0.97],[-0.62,1.03],[0.4,1.0],[0.52,0.97],[0.64,1.03],[0.76,0.98],[0.88,1.02],[1.0,0.97],[1.13,1.03],[1.27,0.98],[1.42,1.02],[1.6,0.97],[1.82,1.03],[2.08,0.98],[2.38,1.02],[2.72,0.97],[3.1,1.01],[3.45,0.98],
[-2.45,1.13],[-2.15,1.17],[-1.88,1.12],[-1.65,1.18],[-1.48,1.13],[-1.33,1.17],[-1.18,1.12],[-1.04,1.18],[-0.91,1.13],[-0.78,1.17],[-0.67,1.12],[0.41,1.15],[0.53,1.12],[0.65,1.17],[0.77,1.13],[0.89,1.18],[1.02,1.13],[1.15,1.17],[1.29,1.12],[1.45,1.18],[1.65,1.13],[1.9,1.17],[2.2,1.12],[2.5,1.18],[2.85,1.14],[3.25,1.16],
[-2.25,1.28],[-1.95,1.32],[-1.72,1.27],[-1.52,1.33],[-1.37,1.28],[-1.23,1.32],[-1.09,1.27],[-0.96,1.33],[-0.83,1.28],[-0.71,1.32],[0.43,1.3],[0.55,1.27],[0.67,1.33],[0.79,1.28],[0.92,1.32],[1.05,1.27],[1.19,1.33],[1.35,1.28],[1.52,1.32],[1.75,1.27],[2.02,1.33],[2.35,1.28],[2.68,1.32],[3.05,1.28],
[-2.0,1.47],[-1.75,1.43],[-1.54,1.48],[-1.39,1.43],[-1.25,1.47],[-1.11,1.42],[-0.98,1.48],[-0.85,1.43],[-0.73,1.47],[0.45,1.45],[0.57,1.42],[0.69,1.47],[0.82,1.43],[0.95,1.48],[1.08,1.43],[1.23,1.47],[1.4,1.42],[1.6,1.48],[1.85,1.43],[2.15,1.47],[2.5,1.43],
[-1.85,1.58],[-1.6,1.62],[-1.43,1.57],[-1.28,1.63],[-1.14,1.58],[-1.0,1.62],[-0.87,1.57],[-0.75,1.63],[0.46,1.6],[0.58,1.57],[0.71,1.63],[0.84,1.58],[0.97,1.62],[1.11,1.57],[1.26,1.63],[1.44,1.58],[1.65,1.62],[1.92,1.57],[2.25,1.62],
[-1.65,1.77],[-1.45,1.8],[-1.3,1.76],[-1.16,1.81],[-1.02,1.76],[-0.89,1.8],[-0.77,1.75],[0.48,1.78],[0.6,1.75],[0.73,1.8],[0.86,1.76],[1.0,1.81],[1.14,1.76],[1.3,1.8],[1.48,1.75],[1.72,1.81],[2.0,1.76],
[-1.52,1.94],[-1.35,1.97],[-1.2,1.93],[-1.06,1.98],[-0.92,1.93],[-0.8,1.97],[0.49,1.95],[0.62,1.92],[0.75,1.97],[0.88,1.93],[1.02,1.98],[1.17,1.93],[1.33,1.97],[1.52,1.92],
[-1.42,2.13],[-1.26,2.17],[-1.11,2.12],[-0.97,2.18],[-0.84,2.13],[-0.73,2.17],[0.51,2.15],[0.64,2.12],[0.78,2.17],[0.92,2.13],[1.06,2.18],[1.22,2.13],[1.4,2.17],
[-1.35,2.37],[-1.19,2.33],[-1.04,2.38],[-0.91,2.33],[-0.78,2.37],[0.53,2.35],[0.67,2.32],[0.81,2.37],[0.95,2.33],[1.1,2.38],[1.27,2.33],[1.46,2.37],
[-1.4,2.53],[-1.23,2.57],[-1.08,2.52],[-0.95,2.58],[-0.82,2.53],[0.55,2.55],[0.69,2.52],[0.84,2.57],[0.99,2.53],[1.15,2.58],[1.33,2.53],
[-1.3,2.77],[-1.14,2.73],[-1.0,2.78],[-0.86,2.73],[0.57,2.75],[0.72,2.72],[0.87,2.77],[1.02,2.73],[1.19,2.78],[1.38,2.73],
[-1.38,2.93],[-1.2,2.97],[-1.05,2.92],[-0.9,2.98],[0.6,2.95],[0.75,2.92],[0.9,2.97],[1.06,2.93],[1.24,2.98],[1.45,2.93],
[-1.27,3.17],[-1.1,3.13],[-0.95,3.18],[0.62,3.15],[0.78,3.12],[0.94,3.17],[1.11,3.13],[1.3,3.18],
[-1.42,3.38],[-1.18,3.42],[-1.0,3.37],[-0.85,3.42],[0.65,3.4],[0.81,3.37],[0.98,3.42],[1.16,3.38],[1.38,3.42],
[-1.3,3.67],[-1.1,3.63],[-0.93,3.68],[0.68,3.65],[0.85,3.62],[1.03,3.67],[1.22,3.63],[1.45,3.67],
[-1.2,3.88],[-1.02,3.92],[0.72,3.9],[0.89,3.87],[1.08,3.92],[1.28,3.88],
[-1.28,4.17],[0.76,4.15],[0.94,4.12],[1.13,4.17],[1.36,4.13],
[0.8,4.45],[0.99,4.42],[1.19,4.47],[1.44,4.43],
[0.85,4.77],[1.05,4.73],[1.26,4.77],
[0.92,5.08],[1.14,5.12],[1.4,5.07],
[1.0,5.45],[1.25,5.42]];

var lateFill = [[-1.0,0.24],[-0.9,0.25],[-0.76,0.26],[-0.63,0.25],[0.58,0.25],[0.7,0.26],[0.84,0.25],[0.98,0.24],
[-1.4,0.36],[-1.24,0.35],[-1.09,0.37],[-0.94,0.36],[-0.79,0.35],[-0.65,0.37],[0.57,0.36],[0.71,0.37],[0.85,0.35],[0.99,0.36],[1.14,0.37],[1.3,0.36],[1.46,0.35],
[-1.58,0.49],[-1.44,0.48],[-1.29,0.5],[-1.15,0.49],[-1.01,0.48],[-0.87,0.5],[-0.73,0.49],[-0.61,0.48],[0.54,0.49],[0.67,0.5],[0.8,0.48],[0.94,0.49],[1.08,0.5],[1.23,0.48],[1.4,0.49],[1.6,0.5],
[-1.62,0.63],[-1.46,0.62],[-1.31,0.64],[-1.16,0.63],[-1.02,0.62],[-0.88,0.64],[-0.75,0.63],[-0.62,0.62],[0.51,0.63],[0.63,0.64],[0.76,0.62],[0.9,0.63],[1.03,0.64],[1.18,0.62],[1.33,0.63],[1.52,0.64],
[-1.62,0.78],[-1.45,0.77],[-1.3,0.79],[-1.16,0.78],[-1.02,0.77],[-0.88,0.79],[-0.75,0.78],[-0.62,0.77],[0.49,0.78],[0.61,0.79],[0.74,0.77],[0.87,0.78],[1.0,0.79],[1.14,0.77],[1.29,0.78],[1.46,0.79],
[-1.58,0.93],[-1.4,0.92],[-1.25,0.94],[-1.11,0.93],[-0.97,0.92],[-0.84,0.94],[-0.71,0.93],[-0.6,0.92],[0.46,0.93],[0.58,0.94],[0.7,0.92],[0.82,0.93],[0.95,0.94],[1.08,0.92],[1.22,0.93],[1.37,0.94],[1.55,0.92],
[-1.55,1.08],[-1.4,1.07],[-1.25,1.09],[-1.11,1.08],[-0.97,1.07],[-0.84,1.09],[-0.72,1.08],[0.46,1.08],[0.58,1.07],[0.7,1.09],[0.82,1.08],[0.95,1.07],[1.08,1.09],[1.22,1.08],[1.37,1.07],[1.54,1.09],
[-1.55,1.22],[-1.4,1.23],[-1.25,1.21],[-1.11,1.22],[-0.97,1.23],[-0.84,1.21],[-0.72,1.22],[0.47,1.22],[0.59,1.23],[0.72,1.21],[0.85,1.22],[0.98,1.23],[1.11,1.21],[1.26,1.22],[1.42,1.23],[1.6,1.21],
[-1.48,1.38],[-1.32,1.37],[-1.17,1.39],[-1.04,1.38],[-0.9,1.37],[-0.78,1.39],[0.49,1.38],[0.61,1.37],[0.74,1.39],[0.87,1.38],[1.0,1.37],[1.14,1.39],[1.29,1.38],[1.46,1.37],
[-1.5,1.53],[-1.35,1.52],[-1.21,1.54],[-1.07,1.53],[-0.94,1.52],[-0.81,1.54],[0.5,1.53],[0.62,1.52],[0.75,1.54],[0.88,1.53],[1.02,1.52],[1.17,1.54],[1.33,1.53],[1.52,1.52],
[-1.5,1.69],[-1.36,1.68],[-1.22,1.7],[-1.08,1.69],[-0.95,1.68],[-0.82,1.7],[0.52,1.69],[0.64,1.68],[0.77,1.7],[0.91,1.69],[1.05,1.68],[1.2,1.7],[1.37,1.69],[1.56,1.68],
[-1.42,1.86],[-1.27,1.85],[-1.13,1.87],[-0.99,1.86],[-0.86,1.85],[-0.75,1.87],[0.53,1.86],[0.66,1.85],[0.8,1.87],[0.94,1.86],[1.08,1.85],[1.24,1.87],[1.42,1.86],
[-1.45,2.04],[-1.3,2.03],[-1.15,2.05],[-1.01,2.04],[-0.88,2.03],[-0.77,2.05],[0.55,2.04],[0.68,2.03],[0.82,2.05],[0.96,2.04],[1.1,2.03],[1.26,2.05],[1.44,2.04],
[-1.45,2.25],[-1.28,2.24],[-1.13,2.26],[-0.99,2.25],[-0.86,2.24],[0.57,2.25],[0.7,2.24],[0.84,2.26],[0.98,2.25],[1.13,2.24],[1.3,2.26],[1.5,2.25],
[-1.45,2.45],[-1.29,2.44],[-1.14,2.46],[-1.0,2.45],[-0.87,2.44],[0.59,2.45],[0.73,2.44],[0.88,2.46],[1.03,2.45],[1.19,2.44],[1.37,2.46],
[-1.34,2.65],[-1.18,2.64],[-1.04,2.66],[-0.91,2.65],[0.6,2.65],[0.75,2.64],[0.9,2.66],[1.06,2.65],[1.23,2.64],[1.42,2.66],
[-1.45,2.85],[-1.28,2.84],[-1.12,2.86],[-0.98,2.85],[-0.85,2.84],[0.62,2.85],[0.78,2.84],[0.93,2.86],[1.09,2.85],[1.27,2.84],[1.47,2.86],
[-1.32,3.05],[-1.16,3.04],[-1.01,3.06],[-0.88,3.05],[0.65,3.05],[0.8,3.04],[0.96,3.06],[1.13,3.05],[1.33,3.04],
[-1.36,3.27],[-1.2,3.26],[-1.04,3.28],[-0.9,3.27],[0.67,3.27],[0.83,3.26],[1.0,3.28],[1.18,3.27],[1.4,3.26],
[-1.4,3.52],[-1.22,3.51],[-1.05,3.53],[-0.9,3.52],[0.7,3.52],[0.87,3.51],[1.05,3.53],[1.25,3.52],[1.48,3.51],
[-1.25,3.78],[-1.08,3.77],[0.74,3.78],[0.91,3.77],[1.1,3.79],[1.32,3.78],
[-0.52,0.9],[-0.55,1.2],[-0.58,1.5],[-0.62,1.85],[-0.65,2.2],[0.35,0.9],[0.37,1.2],[0.4,1.5],[0.43,1.85],[0.46,2.2],[-0.47,0.6],[0.38,0.6],
[-0.25,0.05],[0.24,0.06],[-0.36,0.08],[0.36,0.09],[-0.56,0.13],[0.56,0.14],[-0.67,0.16],[0.68,0.17],[-0.12,0.02],[0.12,0.02],[-0.3,0.3],[0.3,0.32]];

var latePuf = [[7.19,9.89],[5.75,8.01],[4.75,4.32],[4.27,4.84],[2.54,9.24],[2.16,7.4],[2.43,6.88],[1.92,5.9],[1.79,5.71],[1.87,5.18],[1.78,4.17],[1.52,4.75],[2.21,3.45],[2.38,3.56],[2.54,3.19],[2.62,2.58],[2.27,2.68],[2.89,2.23],[3.41,2.37],[1.56,3.08],[1.62,2.97],[1.9,1.87],[2.05,1.88],[3.02,1.34],
[-7.32,3.51],[-5.03,3.73],[-5.19,3.34],[-4.84,2.91],[-4.33,3.8],[-4.19,4.4],[-3.94,5.77],[-4.24,9.72],[-3.52,3.97],[-3.46,2.3],[-3.41,2.52],[-2.92,7.98],[-1.86,4.27]];

// ---------------- drawing ----------------
var W = 7200, H = 7200;
var box = {left: 491, right: 3348, top: 491, bottom: 2987};
var font = "'Liberation Sans', Arial, Helvetica, sans-serif";

var panels = [
  {letter: panelLetters[0], title: panelTitles[0], dx: 0,    dy: 0,    genes: earlyCore.concat(earlyFill, earlyOther), puf: earlyPuf, yTicks: yTicksEarly},
  {letter: panelLetters[1], title: panelTitles[1], dx: 3600, dy: 0,    genes: midCore.concat(midFill, midOther),       puf: midPuf,   yTicks: yTicksMid},
  {letter: panelLetters[2], title: panelTitles[2], dx: 0,    dy: 3600, genes: lateCore.concat(lateFill, lateOther),    puf: latePuf,  yTicks: yTicksLate}
];

var svg = d3.select("#chart").append("svg")
  .attr("viewBox", "0 0 " + W + " " + H)
  .attr("preserveAspectRatio", "xMidYMid meet");

svg.append("rect").attr("width", W).attr("height", H).attr("fill", "#fff");

// R style axis range: data extent padded by 4%
function rRange(vals) {
  var e = d3.extent(vals);
  var pad = (e[1] - e[0]) * 0.04;
  return [e[0] - pad, e[1] + pad];
}

panels.forEach(function(p, i) {
  var all = p.genes.concat(p.puf);

  var x = d3.scaleLinear()
    .domain(rRange(all.map(function(d) { return d[0]; })))
    .range([box.left, box.right]);
  var y = d3.scaleLinear()
    .domain(rRange(all.map(function(d) { return d[1]; })))
    .range([box.bottom, box.top]);

  var g = svg.append("g")
    .attr("transform", "translate(" + p.dx + "," + p.dy + ")");

  g.append("clipPath").attr("id", "clip" + i)
    .append("rect")
    .attr("x", box.left).attr("y", box.top)
    .attr("width", box.right - box.left).attr("height", box.bottom - box.top);

  var plot = g.append("g").attr("clip-path", "url(#clip" + i + ")");

  // genes (black) then PUF genes (red)
  plot.append("g").selectAll("circle")
    .data(p.genes)
    .enter().append("circle")
    .attr("cx", function(d) { return x(d[0]); })
    .attr("cy", function(d) { return y(d[1]); })
    .attr("r", 23)
    .attr("fill", "none")
    .attr("stroke", "#000")
    .attr("stroke-width", 6);

  plot.append("g").selectAll("circle")
    .data(p.puf)
    .enter().append("circle")
    .attr("cx", function(d) { return x(d[0]); })
    .attr("cy", function(d) { return y(d[1]); })
    .attr("r", 23)
    .attr("fill", "none")
    .attr("stroke", "#ff0000")
    .attr("stroke-width", 6);

  // threshold lines
  var cuts = plot.append("g")
    .attr("stroke", "#ff0000")
    .attr("stroke-width", 5.2)
    .attr("stroke-dasharray", "21,21")
    .attr("stroke-linecap", "round");

  [-fcCut, fcCut].forEach(function(v) {
    cuts.append("line")
      .attr("x1", x(v)).attr("x2", x(v))
      .attr("y1", box.top).attr("y2", box.bottom);
  });
  cuts.append("line")
    .attr("x1", box.left).attr("x2", box.right)
    .attr("y1", y(pCut)).attr("y2", y(pCut));

  // frame
  g.append("rect")
    .attr("x", box.left).attr("y", box.top)
    .attr("width", box.right - box.left).attr("height", box.bottom - box.top)
    .attr("fill", "none")
    .attr("stroke", "#000")
    .attr("stroke-width", 5.5);

  // x axis
  var xa = g.append("g");
  xa.selectAll("line")
    .data(xTicks)
    .enter().append("line")
    .attr("x1", function(d) { return x(d); })
    .attr("x2", function(d) { return x(d); })
    .attr("y1", box.bottom)
    .attr("y2", box.bottom + 60)
    .attr("stroke", "#000")
    .attr("stroke-width", 5.5)
    .attr("stroke-linecap", "round");
  xa.selectAll("text")
    .data(xTicks)
    .enter().append("text")
    .attr("x", function(d) { return x(d); })
    .attr("y", 3212)
    .attr("text-anchor", "middle")
    .attr("font-size", 100)
    .attr("font-family", font)
    .text(function(d) { return d; });

  // y axis
  var ya = g.append("g");
  ya.selectAll("line")
    .data(p.yTicks)
    .enter().append("line")
    .attr("x1", box.left - 60)
    .attr("x2", box.left)
    .attr("y1", function(d) { return y(d); })
    .attr("y2", function(d) { return y(d); })
    .attr("stroke", "#000")
    .attr("stroke-width", 5.5)
    .attr("stroke-linecap", "round");
  ya.selectAll("text")
    .data(p.yTicks)
    .enter().append("text")
    .attr("transform", function(d) { return "translate(356," + y(d) + ") rotate(-90)"; })
    .attr("text-anchor", "middle")
    .attr("font-size", 100)
    .attr("font-family", font)
    .text(function(d) { return d; });

  // titles
  g.append("text")
    .attr("x", (box.left + box.right) / 2)
    .attr("y", 278)
    .attr("text-anchor", "middle")
    .attr("font-size", 120)
    .attr("font-family", font)
    .text(p.title);

  g.append("text")
    .attr("x", (box.left + box.right) / 2)
    .attr("y", 3446)
    .attr("text-anchor", "middle")
    .attr("font-size", 100)
    .attr("font-family", font)
    .text(xLabel);

  g.append("text")
    .attr("transform", "translate(112," + ((box.top + box.bottom) / 2) + ") rotate(-90)")
    .attr("text-anchor", "middle")
    .attr("font-size", 100)
    .attr("font-family", font)
    .text(yLabel);

  g.append("text")
    .attr("x", 50)
    .attr("y", 131)
    .attr("font-size", 102)
    .attr("font-weight", "bold")
    .attr("font-family", font)
    .text(p.letter);

  // legend
  var lg = g.append("g");
  lg.append("rect")
    .attr("x", box.left).attr("y", box.top)
    .attr("width", 426).attr("height", 241)
    .attr("fill", "#fff")
    .attr("stroke", "#000")
    .attr("stroke-width", 5.5);
  lg.append("circle")
    .attr("cx", box.left + 91).attr("cy", box.top + 121)
    .attr("r", 23)
    .attr("fill", "none")
    .attr("stroke", "#ff0000")
    .attr("stroke-width", 6);
  lg.append("text")
    .attr("x", box.left + 190).attr("y", box.top + 157)
    .attr("font-size", 100)
    .attr("font-family", font)
    .text(legendLabel);
});
</script>
</body>
</html>
